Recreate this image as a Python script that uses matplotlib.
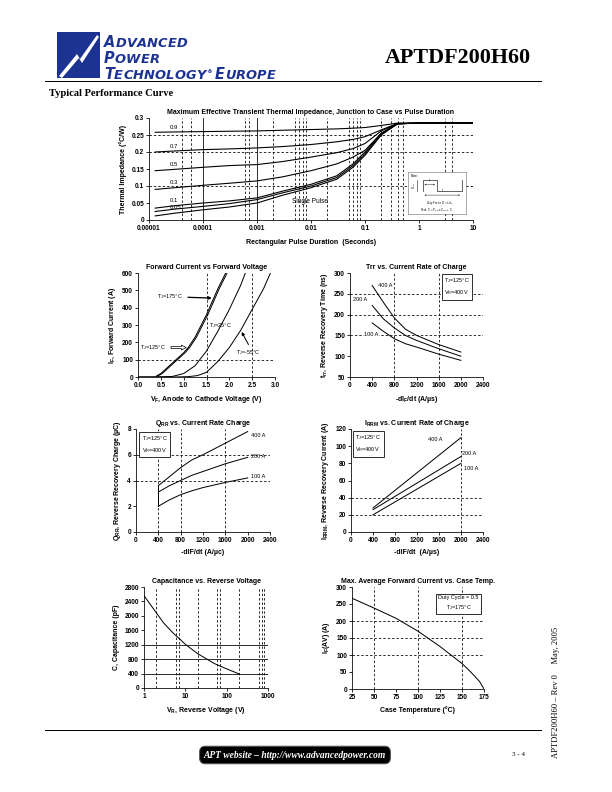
import matplotlib
matplotlib.use("Agg")
import matplotlib.pyplot as plt
from matplotlib.patches import Polygon

plt.rcParams['font.family'] = ['Liberation Sans', 'DejaVu Sans']
plt.rcParams['mathtext.fontset'] = 'custom'
plt.rcParams['mathtext.rm'] = 'Liberation Sans'
plt.rcParams['mathtext.it'] = 'Liberation Sans'
plt.rcParams['mathtext.bf'] = 'Liberation Sans:bold'

W, H = 612, 792

# ---- thermal impedance
zth_t = [1.3e-5, 3e-5, 1e-4, 3e-4, 1e-3, 3e-3, 1e-2, 3e-2, 6e-2, 1e-1, 2e-1, 4e-1, 1, 10]
zth_09 = [0.258, 0.259, 0.260, 0.261, 0.262, 0.264, 0.266, 0.268, 0.270, 0.272, 0.278, 0.285, 0.285, 0.285]
zth_07 = [0.200, 0.203, 0.207, 0.209, 0.212, 0.216, 0.222, 0.230, 0.237, 0.245, 0.265, 0.284, 0.285, 0.285]
zth_05 = [0.145, 0.149, 0.155, 0.160, 0.163, 0.172, 0.185, 0.198, 0.210, 0.225, 0.262, 0.283, 0.285, 0.285]
zth_03 = [0.090, 0.095, 0.102, 0.108, 0.115, 0.127, 0.145, 0.165, 0.185, 0.205, 0.255, 0.283, 0.285, 0.285]
zth_01 = [0.035, 0.042, 0.050, 0.056, 0.065, 0.085, 0.105, 0.130, 0.165, 0.200, 0.255, 0.283, 0.285, 0.285]
zth_005 = [0.025, 0.032, 0.040, 0.048, 0.060, 0.080, 0.100, 0.125, 0.160, 0.195, 0.252, 0.283, 0.285, 0.285]
zth_sp = [0.012, 0.020, 0.030, 0.038, 0.050, 0.073, 0.095, 0.120, 0.155, 0.190, 0.250, 0.283, 0.285, 0.285]
zth_labels = ["0.9", "0.7", "0.5", "0.3", "0.1", "0.05"]
zth_label_y = [0.272, 0.217, 0.163, 0.110, 0.058, 0.037]
zth_xticks = [1e-5, 1e-4, 1e-3, 1e-2, 1e-1, 1, 10]
zth_xticklabels = ["0.00001", "0.0001", "0.001", "0.01", "0.1", "1", "10"]
zth_yticks = [0, 0.05, 0.1, 0.15, 0.2, 0.25, 0.3]
zth_yticklabels = ["0", "0.05", "0.1", "0.15", "0.2", "0.25", "0.3"]

# ---- forward current vs forward voltage
vf_hot = [0.4, 0.5, 0.75, 1.0, 1.1, 1.25, 1.5, 1.65, 1.75, 1.92]
if_175 = [5, 20, 80, 140, 170, 230, 360, 450, 510, 600]
vf_125 = [0.43, 0.53, 0.78, 1.03, 1.13, 1.28, 1.53, 1.68, 1.78, 1.95]
if_125 = [5, 20, 80, 140, 170, 230, 360, 450, 510, 600]
vf_25 = [0.0, 0.5, 0.75, 1.0, 1.25, 1.5, 1.75, 2.0, 2.25, 2.35]
if_25 = [0, 1, 3, 20, 65, 150, 265, 390, 530, 600]
vf_m55 = [0.0, 0.8, 1.1, 1.3, 1.5, 1.75, 2.0, 2.25, 2.5, 2.75, 2.9]
if_m55 = [0, 0, 2, 8, 27, 90, 170, 270, 390, 510, 600]
vf_ticks = [0.0, 0.5, 1.0, 1.5, 2.0, 2.5, 3.0]
if_ticks = [0, 100, 200, 300, 400, 500, 600]

# ---- trr vs di/dt
di = [400, 600, 800, 1000, 1200, 1600, 2000]
trr_400 = [270, 230, 192, 165, 150, 128, 110]
trr_200 = [222, 190, 168, 150, 138, 118, 100]
trr_100 = [180, 160, 142, 130, 122, 105, 90]
di_ticks = [0, 400, 800, 1200, 1600, 2000, 2400]
trr_ticks = [50, 100, 150, 200, 250, 300]

# ---- Qrr vs di/dt
qrr_400 = [3.6, 4.3, 5.0, 5.6, 6.0, 6.9, 7.8]
qrr_200 = [3.1, 3.6, 4.0, 4.4, 4.7, 5.3, 5.8]
qrr_100 = [2.0, 2.5, 2.9, 3.2, 3.45, 3.85, 4.2]
qrr_ticks = [0, 2, 4, 6, 8]

# ---- Irrm vs di/dt
di_lin = [400, 2000]
irrm_400 = [28, 110]
irrm_200 = [26, 88]
irrm_100 = [20, 80]
irrm_ticks = [0, 20, 40, 60, 80, 100, 120]

# ---- capacitance vs reverse voltage
vr = [1, 2, 3, 5, 7, 10, 20, 50, 100, 200]
cap = [2560, 2080, 1800, 1530, 1380, 1210, 950, 680, 530, 390]
vr_ticks = [1, 10, 100, 1000]
vr_ticklabels = ["1", "10", "100", "1000"]
cap_ticks = [0, 400, 800, 1200, 1600, 2000, 2400, 2800]

# ---- max average forward current vs case temperature
tc = [25, 50, 75, 100, 125, 150, 160, 170, 175]
ifav = [267, 238, 208, 170, 125, 75, 50, 22, 0]
tc_ticks = [25, 50, 75, 100, 125, 150, 175]
ifav_ticks = [0, 50, 100, 150, 200, 250, 300]

DASH = (0, (3, 2.5))
FS = 6.5   # tick labels
LFS = 7    # titles / axis labels
AFS = 5.5  # annotations

fig = plt.figure(figsize=(W / 72, H / 72), dpi=72)


def add_ax(l, t, r, b):
    return fig.add_axes([l / W, 1 - b / H, (r - l) / W, (b - t) / H])


def ftext(x, y, s, **kw):
    return fig.text(x / W, 1 - y / H, s, **kw)


def style(ax, title, xlabel, ylabel, xticks, yticks, xlabels=None, ylabels=None):
    for s in ("top", "right"):
        ax.spines[s].set_visible(False)
    for s in ("left", "bottom"):
        ax.spines[s].set_linewidth(0.8)
    ax.set_xticks(xticks)
    ax.set_yticks(yticks)
    if xlabels is not None:
        ax.set_xticklabels(xlabels)
    if ylabels is not None:
        ax.set_yticklabels(ylabels)
    ax.minorticks_off()
    ax.tick_params(direction="out", length=3, width=0.8, labelsize=FS, pad=2)
    for lab in ax.get_xticklabels() + ax.get_yticklabels():
        lab.set_fontweight("bold")
    ax.set_title(title, fontsize=LFS, fontweight="bold", pad=4)
    ax.set_xlabel(xlabel, fontsize=LFS, fontweight="bold", labelpad=5)
    ax.set_ylabel(ylabel, fontsize=LFS, fontweight="bold", labelpad=4)


def grid(ax, xs=(), ys=(), ls=DASH):
    for x in xs:
        ax.axvline(x, color="black", lw=0.8, ls=ls, zorder=1)
    for y in ys:
        ax.axhline(y, color="black", lw=0.8, ls=ls, zorder=1)


def note_box(ax, x, y, s):
    ax.text(x, y, s, fontsize=AFS, va="top", ha="left", linespacing=1.5, zorder=5,
            bbox=dict(boxstyle="square,pad=0.45", fc="white", ec="black", lw=0.8))


# ================= header =================
logo_blue = "#1c3391"
sq = Polygon([(57 / W, 1 - 32 / H), (100 / W, 1 - 32 / H), (100 / W, 1 - 78 / H), (57 / W, 1 - 78 / H)],
             closed=True, transform=fig.transFigure, fc=logo_blue, ec="none")
fig.patches.append(sq)
bolt = [(59, 76), (77, 54), (80, 59), (97, 35), (99, 37), (82, 63), (79, 58), (62, 78)]
fig.patches.append(Polygon([(x / W, 1 - y / H) for x, y in bolt], closed=True,
                           transform=fig.transFigure, fc="white", ec="none"))

renderer = fig.canvas.get_renderer()


def logo_line(x, y, parts, track=0.2):
    # letters placed one by one so the extended logo face can be imitated
    for s, sz, rise in parts:
        for ch in s:
            t = ftext(x, y - rise, ch, fontsize=sz, fontweight="bold", fontstyle="italic",
                      color=logo_blue, family="DejaVu Sans", va="baseline")
            x += t.get_window_extent(renderer=renderer).width + track


logo_line(104, 47, [("A", 14.5, 0), ("DVANCED", 13, 0)])
logo_line(104, 63, [("P", 14.5, 0), ("OWER", 13, 0)])
logo_line(104, 79, [("T", 14.5, 0), ("ECHNOLOGY", 13, 0), ("®", 6, 6), (" ", 6, 0),
                    ("E", 14.5, 0), ("UROPE", 13, 0)])

ftext(385, 63, "APTDF200H60", fontsize=22, fontweight="bold", family="Liberation Serif", va="baseline")
fig.lines.append(plt.Line2D([45 / W, 541 / W], [1 - 81 / H, 1 - 81 / H], transform=fig.transFigure,
                            color="black", lw=1.0))
ftext(49, 96, "Typical Performance Curve", fontsize=10.5, fontweight="bold",
      family="Liberation Serif", va="baseline")

# ================= thermal impedance =================
ax = add_ax(149, 118, 473, 220)
ax.set_xscale("log")
ax.set_xlim(1e-5, 10)
ax.set_ylim(0, 0.3)
grid(ax, xs=[4e-5, 6e-5, 6e-4, 7e-4, 2e-3, 5e-3, 6e-3, 7e-3, 8e-3, 2e-2, 5e-2, 6e-2, 7e-2, 8e-2,
             0.2, 0.3, 0.4, 0.5, 3, 4], ys=[0.1, 0.2, 0.25])
grid(ax, xs=[1e-4, 1e-3], ls="-")
for yv in (zth_09, zth_07, zth_05, zth_03, zth_01, zth_005, zth_sp):
    ax.plot(zth_t, yv, color="black", lw=1.1, zorder=3)
for s, yl in zip(zth_labels, zth_label_y):
    ax.text(2.4e-5, yl, s, fontsize=6, va="center", ha="left", zorder=4)
ax.text(4.5e-3, 0.053, "Single Pulse", fontsize=6.5, va="center", ha="left", zorder=4)
style(ax, "Maximum Effective Transient Thermal Impedance, Junction to Case vs Pulse Duration",
      "Rectangular Pulse Duration  (Seconds)", "Thermal Impedance (°C/W)",
      zth_xticks, zth_yticks, zth_xticklabels, zth_yticklabels)
ax.xaxis.labelpad = 7

# note inset
nb = add_ax(408, 172, 466, 214)
nb.set_xlim(0, 1)
nb.set_ylim(0, 1)
nb.set_xticks([])
nb.set_yticks([])
for s in nb.spines.values():
    s.set_color("#777777")
    s.set_linewidth(0.6)
nb.set_zorder(6)
nb.text(0.04, 0.96, "Note:", fontsize=3.2, va="top")
nb.plot([0.25, 0.25, 0.5, 0.5, 0.93, 0.93], [0.55, 0.82, 0.82, 0.55, 0.55, 0.82], color="black", lw=0.6)
nb.plot([0.16, 0.16], [0.55, 0.82], color="black", lw=0.5)
nb.text(0.11, 0.68, "P$_{DM}$", fontsize=2.8, rotation=90, va="center", ha="center")
nb.annotate("", xy=(0.5, 0.7), xytext=(0.25, 0.7), arrowprops=dict(arrowstyle="<->", lw=0.4, mutation_scale=3))
nb.text(0.38, 0.72, "t$_1$", fontsize=2.8, ha="center", va="bottom")
nb.annotate("", xy=(0.93, 0.45), xytext=(0.25, 0.45), arrowprops=dict(arrowstyle="<->", lw=0.4, mutation_scale=3))
nb.text(0.6, 0.47, "t$_2$", fontsize=2.8, ha="center", va="bottom")
nb.text(0.55, 0.26, "Duty Factor  D = t$_1$/t$_2$", fontsize=2.8, ha="center", va="center")
nb.text(0.5, 0.1, "Peak T$_J$ = P$_{DM}$ x Z$_{θJC}$ + T$_C$", fontsize=2.8, ha="center", va="center")

# ================= forward current =================
ax = add_ax(138, 273, 275, 377)
ax.set_xlim(0, 3)
ax.set_ylim(0, 600)
grid(ax, xs=[1.5, 2.5], ys=[100])
ax.plot(vf_hot, if_175, color="black", lw=1.0, zorder=3)
ax.plot(vf_125, if_125, color="black", lw=1.0, zorder=3)
ax.plot(vf_25, if_25, color="black", lw=1.0, zorder=3)
ax.plot(vf_m55, if_m55, color="black", lw=1.0, zorder=3)
ax.annotate("T$_J$=175°C", xy=(1.66, 455), xytext=(0.42, 463), fontsize=AFS, va="center",
            arrowprops=dict(arrowstyle="-|>", color="black", lw=1.3, mutation_scale=6, shrinkA=3))
ax.text(1.56, 296, "T$_J$=25°C", fontsize=AFS, va="center")
ax.annotate("T$_J$=125°C", xy=(1.1, 170), xytext=(0.05, 170), fontsize=AFS, va="center",
            arrowprops=dict(arrowstyle="simple,head_width=0.6,head_length=0.6,tail_width=0.25",
                            fc="white", ec="black", lw=0.7, mutation_scale=8, shrinkA=3))
ax.annotate("T$_J$=-55°C", xy=(2.25, 270), xytext=(2.14, 140), fontsize=AFS, va="center",
            arrowprops=dict(arrowstyle="-|>", color="black", lw=1.0, mutation_scale=6,
                            relpos=(0.6, 1.0), shrinkA=2))
style(ax, "Forward Current vs Forward Voltage", "V$_\\mathbf{F}$, Anode to Cathode Voltage (V)",
      "I$_\\mathbf{F}$, Forward Current (A)", vf_ticks, if_ticks,
      ["%.1f" % v for v in vf_ticks])

# ================= trr =================
ax = add_ax(350, 273, 483, 377)
ax.set_xlim(0, 2400)
ax.set_ylim(50, 300)
grid(ax, xs=[800, 1600], ys=[150, 200, 250])
for yv in (trr_400, trr_200, trr_100):
    ax.plot(di, yv, color="black", lw=1.0, zorder=3)
ax.text(510, 270, "400 A", fontsize=AFS, va="center")
ax.text(50, 236, "200 A", fontsize=AFS, va="center")
ax.text(260, 153, "100 A", fontsize=AFS, va="center", bbox=dict(fc="white", ec="none", pad=0.3))
note_box(ax, 1700, 292, "T$_J$=125°C\nV$_R$=400V")
style(ax, "Trr vs. Current Rate of Charge", "-dI$_\\mathbf{F}$/dt (A/µs)",
      "t$_\\mathbf{rr}$, Reverse Recovery Time (ns)", di_ticks, trr_ticks)

# ================= Qrr =================
ax = add_ax(136, 429, 270, 532)
ax.set_xlim(0, 2400)
ax.set_ylim(0, 8)
grid(ax, xs=[400, 800, 1600], ys=[4, 6])
for yv in (qrr_400, qrr_200, qrr_100):
    ax.plot(di, yv, color="black", lw=1.0, zorder=3)
ax.plot([400, 400], [qrr_100[0], qrr_400[0]], color="black", lw=1.0, zorder=3)
ax.text(2060, 7.5, "400 A", fontsize=AFS, va="center")
ax.text(2060, 5.85, "200 A", fontsize=AFS, va="center")
ax.text(2060, 4.3, "100 A", fontsize=AFS, va="center")
note_box(ax, 100, 7.6, "T$_J$=125°C\nV$_R$=400V")
style(ax, "Q$_\\mathbf{RR}$ vs. Current Rate Charge", "-dIF/dt (A/µc)",
      "Q$_\\mathbf{RR}$, Reverse Recovery Charge (µC)", di_ticks, qrr_ticks)

# ================= Irrm =================
ax = add_ax(351, 429, 483, 532)
ax.set_xlim(0, 2400)
ax.set_ylim(0, 120)
grid(ax, xs=[2000], ys=[20, 40])
for yv in (irrm_400, irrm_200, irrm_100):
    ax.plot(di_lin, yv, color="black", lw=1.0, zorder=3)
ax.text(1400, 108, "400 A", fontsize=AFS, va="center")
ax.text(2020, 92, "200 A", fontsize=AFS, va="center")
ax.text(2050, 74, "100 A", fontsize=AFS, va="center")
note_box(ax, 80, 115, "T$_J$=125°C\nV$_R$=400V")
style(ax, "I$_\\mathbf{RRM}$ vs. Current Rate of Charge", "-dIF/dt  (A/µs)",
      "I$_\\mathbf{RRM}$, Reverse Recovery Current (A)", di_ticks, irrm_ticks)

# ================= capacitance =================
ax = add_ax(144, 587, 268, 688)
ax.set_xscale("log")
ax.set_xlim(1, 1000)
ax.set_ylim(0, 2800)
grid(ax, xs=[2, 6, 7, 20, 60, 70, 200, 600, 700, 800])
grid(ax, ys=[400, 800, 1200], ls="-")
ax.plot(vr, cap, color="black", lw=1.0, zorder=3)
style(ax, "Capacitance vs. Reverse Voltage", "V$_\\mathbf{R}$, Reverse Voltage (V)",
      "C, Capacitance (pF)", vr_ticks, cap_ticks, vr_ticklabels)

# ================= max average forward current =================
ax = add_ax(352, 587, 484, 689)
ax.set_xlim(25, 175)
ax.set_ylim(0, 300)
grid(ax, xs=[50, 100, 150], ys=[100, 150, 200])
ax.plot(tc, ifav, color="black", lw=1.0, zorder=3)
ax.text(146, 277, "Duty Cycle = 0.5\nT$_J$=175°C", fontsize=AFS, va="top", ha="center", linespacing=1.5,
        zorder=5, bbox=dict(boxstyle="square,pad=0.45", fc="white", ec="black", lw=0.8))
style(ax, "Max. Average Forward Current vs. Case Temp.", "Case Temperature (°C)",
      "I$_\\mathbf{F}$(AV) (A)", tc_ticks, ifav_ticks)

# ================= footer =================
fig.lines.append(plt.Line2D([45 / W, 541 / W], [1 - 730 / H, 1 - 730 / H], transform=fig.transFigure,
                            color="black", lw=1.0))
ftext(295, 755, "APT website – http://www.advancedpower.com", fontsize=9.5, fontweight="bold",
      fontstyle="italic", family="Liberation Serif", color="white", ha="center", va="center",
      bbox=dict(boxstyle="round,pad=0.45,rounding_size=0.6", fc="black", ec="#555555", lw=1.0))
ftext(518, 755, "3 - 4", fontsize=7, family="Liberation Serif", ha="center", va="center")
ftext(556, 692, "APTDF200H60 – Rev 0     May, 2005", fontsize=8.5, family="Liberation Serif",
      rotation=90, ha="center", va="center")

fig.savefig("out.png", dpi=72)
